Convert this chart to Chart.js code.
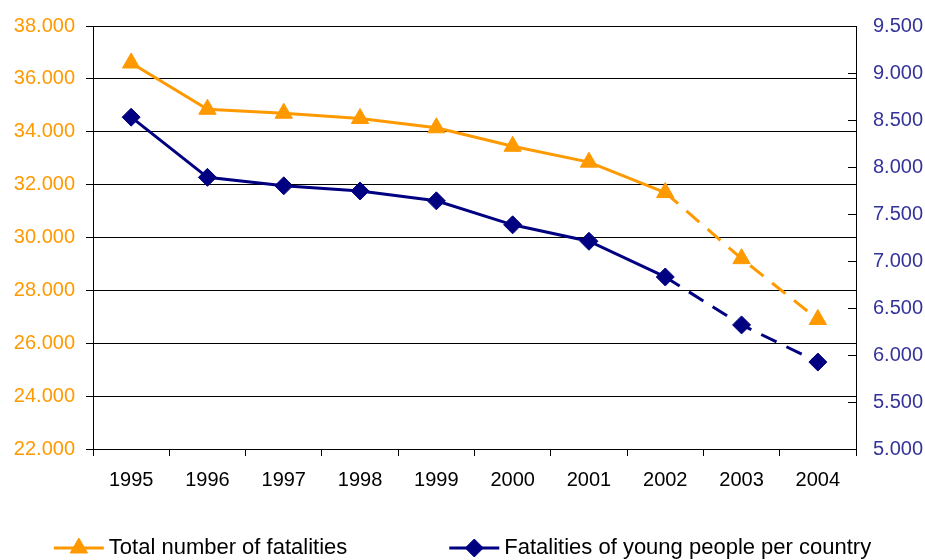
<!DOCTYPE html>
<html>
<head>
<meta charset="utf-8">
<script src="https://cdn.jsdelivr.net/npm/chart.js@4.4.1/dist/chart.umd.min.js"></script>
<style>
  html, body { margin: 0; padding: 0; background: #fff; }
  #wrap { width: 925px; height: 560px; }
</style>
</head>
<body>
<div id="wrap"><canvas id="chart" width="925" height="560"></canvas></div>
<script>
const years = ['1995', '1996', '1997', '1998', '1999', '2000', '2001', '2002', '2003', '2004'];
const totalFatalities = [36600, 34850, 34700, 34500, 34150, 33450, 32850, 31700, 29200, 26900];
const youngFatalities = [8530, 7890, 7800, 7745, 7640, 7385, 7210, 6830, 6320, 5925];
const leftTicks = [22000, 24000, 26000, 28000, 30000, 32000, 34000, 36000, 38000];
const rightTicks = [5000, 5500, 6000, 6500, 7000, 7500, 8000, 8500, 9000, 9500];
const firstForecast = 7; // lines turn dashed from 2002 on

const ORANGE = '#FF9900';
const NAVY = '#000080';
const FONT = '"Liberation Sans", Arial, sans-serif';
const FONT_SIZE = 20;
const LEGEND_SIZE = 22;

const fmtK = v => (v / 1000).toFixed(3);

const dashAfter = ctx => ctx.p0DataIndex >= firstForecast ? [17, 11] : undefined;

// legend drawn under the axis: line sample, marker, label
const bottomLegend = {
  id: 'bottomLegend',
  afterDraw(chart) {
    const ctx = chart.ctx;
    const sets = chart.data.datasets;
    const lineW = 50, gapText = 5, gapItems = 102;
    ctx.save();
    ctx.font = LEGEND_SIZE + 'px ' + FONT;
    const widths = sets.map(d => lineW + gapText + ctx.measureText(d.label).width);
    const total = widths.reduce((a, b) => a + b, 0) + gapItems * (sets.length - 1);
    let x = (chart.width - total) / 2;
    const y = 548;
    sets.forEach((d, i) => {
      ctx.strokeStyle = d.borderColor;
      ctx.fillStyle = d.borderColor;
      ctx.lineWidth = 3;
      ctx.setLineDash([]);
      ctx.beginPath();
      ctx.moveTo(x, y);
      ctx.lineTo(x + lineW, y);
      ctx.stroke();
      ctx.lineWidth = 1;
      Chart.helpers.drawPoint(ctx, {
        pointStyle: d.pointStyle,
        radius: d.pointRadius,
        borderWidth: 1,
        rotation: 0
      }, x + lineW / 2, y);
      ctx.fillStyle = '#000';
      ctx.textBaseline = 'middle';
      ctx.textAlign = 'left';
      ctx.fillText(d.label, x + lineW + gapText, y);
      x += widths[i] + gapItems;
    });
    ctx.restore();
  }
};

new Chart(document.getElementById('chart'), {
  type: 'line',
  data: {
    labels: years,
    datasets: [
      {
        label: 'Total number of fatalities',
        data: totalFatalities,
        yAxisID: 'y',
        borderColor: ORANGE,
        backgroundColor: ORANGE,
        borderWidth: 3,
        pointStyle: 'triangle',
        pointRadius: 10,
        pointBorderWidth: 1,
        pointBackgroundColor: ORANGE,
        pointBorderColor: ORANGE,
        tension: 0,
        segment: { borderDash: dashAfter }
      },
      {
        label: 'Fatalities of young people per country',
        data: youngFatalities,
        yAxisID: 'y2',
        borderColor: NAVY,
        backgroundColor: NAVY,
        borderWidth: 3,
        pointStyle: 'rectRot',
        pointRadius: 9,
        pointBorderWidth: 1,
        pointBackgroundColor: NAVY,
        pointBorderColor: NAVY,
        tension: 0,
        segment: { borderDash: dashAfter }
      }
    ]
  },
  options: {
    responsive: false,
    animation: false,
    devicePixelRatio: 1,
    layout: { padding: { top: 26, left: 0, right: 0, bottom: 0 } },
    plugins: {
      legend: { display: false },
      tooltip: { enabled: false }
    },
    scales: {
      x: {
        type: 'category',
        offset: true,
        grid: {
          offset: true,
          drawOnChartArea: false,
          drawTicks: true,
          tickLength: 7,
          color: '#000',
          lineWidth: 1
        },
        border: { color: '#000', width: 1 },
        ticks: {
          color: '#000',
          font: { family: FONT, size: FONT_SIZE },
          padding: 12,
          maxRotation: 0,
          autoSkip: false
        },
        afterFit(scale) { scale.height = 111; }
      },
      y: {
        position: 'left',
        min: leftTicks[0],
        max: leftTicks[leftTicks.length - 1],
        afterBuildTicks(scale) { scale.ticks = leftTicks.map(v => ({ value: v })); },
        grid: {
          color: '#000',
          lineWidth: 1,
          drawTicks: true,
          tickLength: 7
        },
        border: { color: '#000', width: 1 },
        ticks: {
          color: ORANGE,
          font: { family: FONT, size: FONT_SIZE },
          padding: 11,
          callback: v => fmtK(v)
        },
        afterFit(scale) {
          scale.width = 93;
          scale.paddingTop = 0;
          scale.paddingBottom = 0;
        }
      },
      y2: {
        position: 'right',
        min: rightTicks[0],
        max: rightTicks[rightTicks.length - 1],
        afterBuildTicks(scale) { scale.ticks = rightTicks.map(v => ({ value: v })); },
        grid: {
          drawOnChartArea: false,
          drawTicks: true,
          tickLength: -8,
          color: '#000',
          lineWidth: 1
        },
        border: { color: '#000', width: 1 },
        ticks: {
          color: '#333399',
          font: { family: FONT, size: FONT_SIZE },
          padding: 25,
          callback: v => fmtK(v)
        },
        afterFit(scale) {
          scale.width = 69;
          scale.paddingTop = 0;
          scale.paddingBottom = 0;
        }
      }
    }
  },
  plugins: [bottomLegend]
});
</script>
</body>
</html>
